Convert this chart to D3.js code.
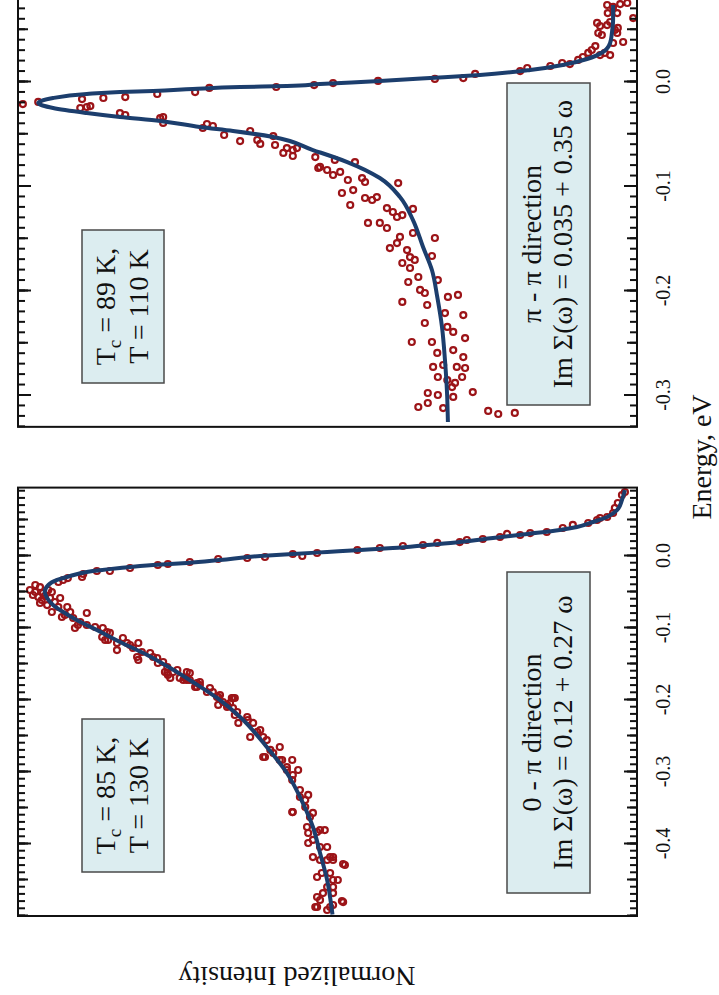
<!DOCTYPE html>
<html>
<head>
<meta charset="utf-8">
<script src="https://cdn.jsdelivr.net/npm/d3@7"></script>
<style>
  html, body { margin: 0; padding: 0; background: #fff; }
  svg { display: block; }
  text { font-family: "Liberation Serif", "Times New Roman", "DejaVu Serif", serif; fill: #111; }
</style>
</head>
<body>
<svg id="chart" width="719" height="995"></svg>
<script>
// ---- Spectra: [energy (eV), normalized intensity] ----

// 0 - π direction, Tc = 85 K, T = 130 K : measured points
const data0Pi = [
  [-0.0014,0.620],[0.0028,0.573],[0.0000,0.557],[0.0042,0.532],[0.0083,0.464],[0.0111,0.426],[0.0139,0.387],[0.0153,0.353],[0.0181,0.329],[0.0194,0.291],
  [0.0222,0.279],[0.0236,0.252],[0.0264,0.223],[0.0306,0.211],[0.0292,0.189],[0.0319,0.172],[0.0333,0.144],[0.0389,0.117],[0.0431,0.100],[0.0458,0.074],
  [0.0500,0.059],[0.0542,0.042],[0.0597,0.032],[0.0736,0.024],[0.0847,0.017],[0.0889,0.012],[0.0528,0.054],[0.0667,0.029],
  [-0.0028,0.650],[-0.0042,0.699],[-0.0083,0.747],[-0.0111,0.784],[-0.0125,0.801],[-0.0167,0.848],[-0.0208,0.882],[-0.0208,0.904],[-0.0250,0.927],[-0.0292,0.929],
  [-0.0306,0.953],[-0.0333,0.961],[-0.0361,0.969],
  [-0.0403,1.008],[-0.0431,1.000],[-0.0542,1.012],[-0.0569,1.003],[-0.0500,1.008],[-0.0514,0.995],[-0.0472,0.986],[-0.0500,0.980],[-0.0611,0.997],[-0.0583,0.983],
  [-0.0681,0.988],[-0.0639,0.975],[-0.0708,0.969],[-0.0778,0.980],[-0.0708,0.954],[-0.0847,0.963],[-0.0778,0.949],[-0.0861,0.944],[-0.0917,0.932],[-0.0792,0.921],
  [-0.0958,0.936],[-0.1000,0.941],[-0.0958,0.921],[-0.0986,0.907],[-0.1125,0.895],[-0.1056,0.887],[-0.1167,0.885],[-0.1306,0.870],[-0.1139,0.860],[-0.1208,0.853],
  [-0.1278,0.843],[-0.1208,0.834],[-0.1444,0.834],[-0.1347,0.814],[-0.1417,0.802],[-0.1542,0.785],[-0.1653,0.784],[-0.1583,0.768],[-0.1694,0.755],[-0.1722,0.747],
  [-0.1819,0.738],[-0.1750,0.730],[-0.1833,0.713],[-0.2069,0.699],[-0.2028,0.691],[-0.1972,0.676],[-0.2111,0.674],
  [-0.1403,0.836],[-0.1486,0.801],[-0.1611,0.789],[-0.1694,0.780],[-0.1722,0.758],[-0.1625,0.747],[-0.1819,0.735],[-0.1889,0.708],[-0.1958,0.699],[-0.2097,0.684],
  [-0.1972,0.671],[-0.2208,0.671],[-0.2319,0.665],[-0.2278,0.649],[-0.2514,0.645],[-0.2444,0.633],[-0.2514,0.623],[-0.2792,0.620],[-0.2694,0.611],[-0.2653,0.595],
  [-0.2833,0.591],[-0.2931,0.583],[-0.2833,0.574],[-0.2972,0.564],[-0.3111,0.574],[-0.3556,0.573],[-0.3250,0.561],[-0.3319,0.547],[-0.3486,0.552],[-0.3569,0.539],
  [-0.3764,0.549],[-0.3833,0.532],[-0.3806,0.519],[-0.3986,0.547],[-0.4042,0.527],[-0.4181,0.539],[-0.4222,0.515],[-0.4181,0.505],[-0.4292,0.485],[-0.4403,0.524],
  [-0.4403,0.510],[-0.4500,0.497],[-0.4736,0.532],[-0.4681,0.522],[-0.4597,0.505],[-0.4806,0.488],[-0.4875,0.532],[-0.4917,0.515],[-0.4847,0.505],
  [-0.1167,0.890],[-0.1208,0.870],
  [-0.1625,0.785],[-0.1694,0.764],[-0.1722,0.752],[-0.1764,0.735],[-0.1958,0.701],[-0.2042,0.679],[-0.1972,0.674],[-0.2236,0.650],[-0.2319,0.640],[-0.2417,0.628],
  [-0.2556,0.617],[-0.2792,0.623],[-0.2736,0.606],[-0.2833,0.595],[-0.2972,0.583],[-0.3042,0.573],[-0.3556,0.574],[-0.3347,0.561],[-0.3389,0.552],[-0.3625,0.544],
  [-0.3847,0.547],[-0.3944,0.539],[-0.3806,0.527],[-0.4042,0.515],[-0.4181,0.510],[-0.4222,0.505],[-0.4222,0.527],[-0.4458,0.532],[-0.4597,0.515],[-0.4500,0.505],
  [-0.4278,0.488],[-0.4875,0.535],[-0.4778,0.527],[-0.4792,0.490],[-0.4875,0.510],[-0.4681,0.505],
  [-0.1000,0.894],[-0.1069,0.882],[-0.1236,0.848],[-0.1333,0.828],[-0.1403,0.809],[-0.1472,0.792],[-0.1611,0.775],[-0.1611,0.752],[-0.1792,0.730],[-0.1889,0.718],
  [-0.1931,0.696],[-0.2069,0.684],[-0.2167,0.667],
  [-0.0472,1.017],[-0.0556,0.992],[-0.0653,1.000],[-0.0583,0.966],[-0.0819,0.958]
];

// 0 - π direction : fitted spectral function
const fit0Pi = [
  [-0.4980,0.506],[-0.4917,0.507],[-0.4500,0.515],[-0.4125,0.527],[-0.3764,0.539],[-0.3431,0.556],[-0.3014,0.583],[-0.2653,0.617],
  [-0.2236,0.662],[-0.1972,0.701],[-0.1750,0.742],[-0.1556,0.780],[-0.1375,0.819],[-0.1194,0.865],[-0.1028,0.904],[-0.0889,0.938],
  [-0.0778,0.961],[-0.0681,0.978],[-0.0583,0.988],[-0.0500,0.992],[-0.0403,0.986],[-0.0333,0.971],[-0.0278,0.949],[-0.0222,0.921],
  [-0.0167,0.865],[-0.0125,0.809],[-0.0097,0.752],[-0.0056,0.696],[0.0000,0.628],[0.0028,0.573],[0.0056,0.515],[0.0083,0.459],
  [0.0111,0.404],[0.0153,0.346],[0.0194,0.291],[0.0250,0.235],[0.0306,0.177],[0.0361,0.122],[0.0403,0.093],[0.0472,0.066],
  [0.0542,0.042],[0.0639,0.025],[0.0778,0.017],[0.0917,0.012]
];

// π - π direction, Tc = 89 K, T = 110 K : measured points
const dataPiPi = [
  [-0.0211,1.029],[-0.0191,1.003],[-0.0163,0.929],[-0.0249,0.932],[-0.0239,0.921],[-0.0230,0.915],[-0.0153,0.893],[-0.0144,0.856],[-0.0297,0.865],[-0.0316,0.856],
  [-0.0115,0.802],[-0.0345,0.797],[-0.0335,0.792],[-0.0392,0.792],[-0.0096,0.738],[-0.0057,0.714],[-0.0440,0.725],[-0.0402,0.718],[-0.0421,0.708],[-0.0507,0.689],
  [-0.0565,0.662],[-0.0469,0.645],[-0.0555,0.633],[-0.0593,0.628],[-0.0048,0.601],[-0.0517,0.606],[-0.0603,0.603],[-0.0679,0.589],[-0.0632,0.583],[-0.0651,0.573],
  [-0.0632,0.566],[-0.0708,0.573],[-0.0029,0.537],[-0.0718,0.535],[-0.0823,0.530],[-0.0010,0.505],[0.0010,0.429],
  [-0.0813,0.527],[-0.0842,0.515],[-0.0890,0.505],[-0.0861,0.493],[-0.0746,0.502],[-0.1062,0.490],[-0.1177,0.476],[-0.0938,0.480],[-0.1034,0.471],[-0.0766,0.468],
  [-0.0919,0.456],[-0.0957,0.451],[-0.1110,0.451],[-0.1129,0.439],[-0.1101,0.431],[-0.1349,0.446],[-0.1349,0.426],[-0.1397,0.414],[-0.1206,0.414],[-0.1244,0.404],
  [-0.0967,0.395],[-0.1292,0.397],[-0.1273,0.388],[-0.1215,0.370],[-0.1589,0.409],[-0.1541,0.397],[-0.1483,0.392],[-0.1608,0.380],[-0.1675,0.375],[-0.1445,0.370],
  [-0.1732,0.388],[-0.1780,0.375],[-0.1866,0.361],[-0.1703,0.367],[-0.1665,0.338],[-0.1493,0.333],[-0.1914,0.378],[-0.1990,0.358],[-0.2019,0.350],[-0.2105,0.388],
  [-0.2134,0.346],[-0.1895,0.328],[-0.2057,0.311],[-0.2038,0.294],[-0.2211,0.316],[-0.2230,0.285],[-0.2306,0.350],[-0.2344,0.312],[-0.2392,0.302],[-0.2450,0.282],
  [-0.2488,0.372],[-0.2488,0.338],[-0.2593,0.329],[-0.2565,0.302],[-0.2632,0.285],[-0.2727,0.336],[-0.2708,0.319],[-0.2727,0.296],[-0.2737,0.282],[-0.2823,0.328],
  [-0.2852,0.312],[-0.2880,0.299],[-0.2823,0.287],[-0.2919,0.304],[-0.2976,0.345],[-0.2995,0.328],[-0.3014,0.302],[-0.2967,0.269],[-0.3072,0.345],[-0.3110,0.361],
  [-0.3120,0.319],[-0.3148,0.243],[-0.3177,0.226],[-0.3167,0.198],
  [0.0029,0.333],[0.0038,0.285],[0.0077,0.265],[0.0105,0.189],[0.0134,0.177],[0.0153,0.138],[0.0182,0.118],[0.0172,0.105],[0.0211,0.091],[0.0239,0.083],
  [0.0278,0.074],[0.0306,0.068],[0.0344,0.062],[0.0258,0.054],[0.0278,0.046],[0.0258,0.037],[0.0469,0.057],[0.0450,0.051],[0.0565,0.059],[0.0536,0.054],
  [0.0545,0.042],[0.0574,0.037],[0.0660,0.041],[0.0737,0.042],[0.0718,0.032],[0.0660,0.025],[0.0746,0.020],[0.0756,0.008],[0.0498,0.029],[0.0517,0.024],
  [0.0469,0.025],[0.0383,0.015],[0.0373,0.032],[0.0612,-0.002]
];

// π - π direction : fitted spectral function
const fitPiPi = [
  [-0.3254,0.311],[-0.2976,0.3125],[-0.2660,0.316],[-0.2344,0.321],[-0.2057,0.329],[-0.1799,0.338],[-0.1579,0.353],[-0.1321,0.370],
  [-0.1100,0.392],[-0.0919,0.426],[-0.0766,0.481],[-0.0651,0.539],[-0.0526,0.606],[-0.0469,0.674],[-0.0431,0.730],[-0.0373,0.797],
  [-0.0335,0.865],[-0.0297,0.921],[-0.0249,0.978],[-0.0201,1.003],[-0.0153,0.978],[-0.0115,0.921],[-0.0096,0.865],[-0.0086,0.809],
  [-0.0067,0.742],[-0.0048,0.662],[-0.0038,0.583],[-0.0019,0.527],[0.0010,0.426],[0.0038,0.341],[0.0067,0.257],[0.0115,0.172],
  [0.0163,0.117],[0.0220,0.076],[0.0287,0.049],[0.0373,0.037],[0.0469,0.034],[0.0593,0.032],[0.0737,0.032]
];

// Labelled energy ticks of each panel
const ticks0Pi = [-0.4, -0.3, -0.2, -0.1, 0.0];
const ticksPiPi = [-0.3, -0.2, -0.1, 0.0];

// Annotation texts
const info0Pi = { tc: "85 K,", t: "T = 130 K" };
const infoPiPi = { tc: "89 K,", t: "T = 110 K" };
const dir0Pi = ["0 - π direction", "Im Σ(ω) = 0.12 + 0.27 ω"];
const dirPiPi = ["π - π direction", "Im Σ(ω) = 0.035 + 0.35 ω"];

// ---- Drawing ----
// The figure is laid out landscape (energy across, intensity up) and then
// turned a quarter turn counter-clockwise onto the portrait page.
const svg = d3.select("#chart");
const fig = svg.append("g").attr("transform", "translate(0,995) rotate(-90)");

const frameTop = 18, frameBottom = 637;
const yI = d3.scaleLinear().domain([-0.0084, 1.0372]).range([frameBottom, frameTop]);

const lineColor = "#1c3e6d";
const dotColor = "#9c1418";
const boxFill = "#dcedf0";

const fmtTick = v => (v < 0 ? "-" : "") + Math.abs(v).toFixed(1);

const panels = [
  { id: "p0", fit: fit0Pi, pts: data0Pi, domain: [-0.5, 0.095], range: [79, 507.4],
    labels: ticks0Pi, minor: d3.range(-50, 10), info: info0Pi, dir: dir0Pi,
    infoBox: { x: 123, w: 153 }, dirBox: { x: 102, w: 321 } },
  { id: "p1", fit: fitPiPi, pts: dataPiPi, domain: [-0.33, 0.08], range: [568.15, 996.6],
    labels: ticksPiPi, minor: d3.range(-33, 9), info: infoPiPi, dir: dirPiPi,
    infoBox: { x: 612, w: 153 }, dirBox: { x: 590, w: 322 } }
];

const defs = svg.append("defs");

panels.forEach(p => {
  const x = d3.scaleLinear().domain(p.domain).range(p.range);
  const g = fig.append("g");

  defs.append("clipPath").attr("id", "clip-" + p.id)
    .append("rect")
    .attr("x", p.range[0]).attr("y", frameTop)
    .attr("width", p.range[1] - p.range[0]).attr("height", frameBottom - frameTop);

  // annotation boxes
  const ib = g.append("g");
  ib.append("rect")
    .attr("x", p.infoBox.x).attr("y", 82).attr("width", p.infoBox.w).attr("height", 82)
    .attr("fill", boxFill).attr("stroke", "#4a4a4a").attr("stroke-width", 1.5);
  const t1 = ib.append("text").attr("x", p.infoBox.x + p.infoBox.w / 2).attr("y", 115)
    .attr("text-anchor", "middle").attr("font-size", 28);
  t1.append("tspan").text("T");
  t1.append("tspan").attr("font-size", 19).attr("dy", 6).text("c");
  t1.append("tspan").attr("dy", -6).text(" = " + p.info.tc);
  ib.append("text").attr("x", p.infoBox.x + p.infoBox.w / 2).attr("y", 148)
    .attr("text-anchor", "middle").attr("font-size", 28).text(p.info.t);

  const db = g.append("g");
  db.append("rect")
    .attr("x", p.dirBox.x).attr("y", 507).attr("width", p.dirBox.w).attr("height", 83)
    .attr("fill", boxFill).attr("stroke", "#4a4a4a").attr("stroke-width", 1.5);
  db.selectAll("text").data(p.dir).join("text")
    .attr("x", p.dirBox.x + p.dirBox.w / 2)
    .attr("y", (d, i) => 541 + i * 31)
    .attr("text-anchor", "middle").attr("font-size", 28)
    .text(d => d);

  // data
  const plot = g.append("g").attr("clip-path", `url(#clip-${p.id})`);
  plot.selectAll("circle").data(p.pts).join("circle")
    .attr("cx", d => x(d[0])).attr("cy", d => yI(d[1]))
    .attr("r", 3)
    .attr("fill", "none").attr("stroke", dotColor).attr("stroke-width", 2.2);

  const line = d3.line().x(d => x(d[0])).y(d => yI(d[1])).curve(d3.curveMonotoneX);
  plot.append("path").datum(p.fit)
    .attr("d", line)
    .attr("fill", "none").attr("stroke", lineColor).attr("stroke-width", 4)
    .attr("stroke-linejoin", "round");

  // energy ticks: minor (0.01), medium (0.05), major (0.1) on both long edges
  const minorVals = p.minor.map(i => i / 100);
  const midVals = minorVals.filter(v => Math.abs(Math.round(v * 100)) % 5 === 0);
  const tickSets = [
    { vals: minorVals, len: 7, label: false },
    { vals: midVals, len: 10, label: false },
    { vals: p.labels, len: 13, label: true }
  ];
  tickSets.forEach(ts => {
    const bottom = d3.axisBottom(x).tickValues(ts.vals).tickSizeInner(-ts.len).tickSizeOuter(0)
      .tickPadding(19).tickFormat(ts.label ? fmtTick : () => "");
    const ab = g.append("g").attr("transform", `translate(0,${frameBottom})`).call(bottom);
    const top = d3.axisTop(x).tickValues(ts.vals).tickSizeInner(-ts.len).tickSizeOuter(0).tickFormat(() => "");
    const at = g.append("g").attr("transform", `translate(0,${frameTop})`).call(top);
    [ab, at].forEach(a => {
      a.select(".domain").remove();
      a.selectAll(".tick line").attr("stroke", "#111").attr("stroke-width", 2);
      a.attr("font-family", null).attr("font-size", 20);
      a.selectAll(".tick text").attr("fill", "#111");
    });
  });

  // frame
  g.append("rect")
    .attr("x", p.range[0]).attr("y", frameTop)
    .attr("width", p.range[1] - p.range[0]).attr("height", frameBottom - frameTop)
    .attr("fill", "none").attr("stroke", "#111").attr("stroke-width", 2);
});

// axis titles
fig.append("text")
  .attr("x", 538).attr("y", 711)
  .attr("text-anchor", "middle").attr("font-size", 28)
  .text("Energy, eV");

fig.append("text")
  .attr("transform", "translate(28,297) rotate(-90)")
  .attr("text-anchor", "middle").attr("font-size", 28)
  .text("Normalized Intensity");
</script>
</body>
</html>
